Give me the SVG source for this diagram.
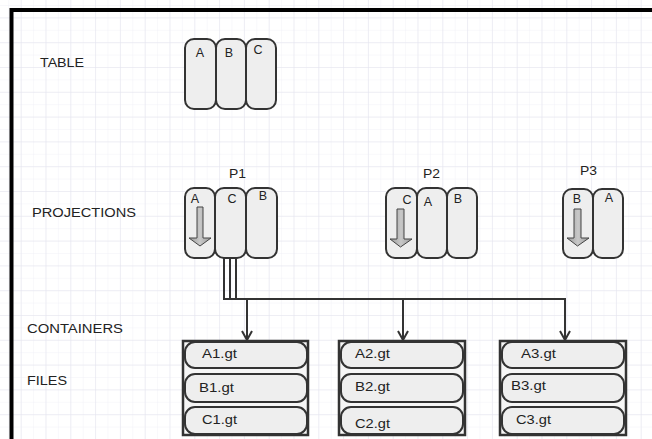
<svg xmlns="http://www.w3.org/2000/svg" width="652" height="439" viewBox="0 0 652 439">
<style>
.lbl{font-family:"Liberation Sans",Arial,sans-serif;font-size:12px;fill:#222}
.ltr{font-family:"Liberation Sans",Arial,sans-serif;font-size:12.5px;fill:#222;text-anchor:middle}
.col{fill:#eeeeee;stroke:#333;stroke-width:2}
.row{fill:#eeeeee;stroke:#333;stroke-width:2}
.box{fill:#f6f6f6;stroke:#333;stroke-width:2.5}
.blk{fill:url(#ag);stroke:#444;stroke-width:1}
.con{fill:none;stroke:#333;stroke-width:2}
</style>
<defs>
<pattern id="gminor" width="12.4" height="12.4" patternUnits="userSpaceOnUse" x="8.3" y="5">
<path d="M0 0H12.4M0 0V12.4" fill="none" stroke="#f1f1f7" stroke-width="1"/>
</pattern>
<pattern id="gmajor" width="24.8" height="24.8" patternUnits="userSpaceOnUse" x="20.7" y="17.4">
<path d="M0 0H24.8M0 0V24.8" fill="none" stroke="#e4e4ee" stroke-width="1"/>
</pattern>
<linearGradient id="ag" x1="0" y1="0" x2="1" y2="0">
<stop offset="0" stop-color="#9a9a9a"/>
<stop offset="0.5" stop-color="#c8c8c8"/>
<stop offset="1" stop-color="#9a9a9a"/>
</linearGradient>
<marker id="open" markerWidth="12" markerHeight="12" refX="10" refY="6" orient="auto" markerUnits="userSpaceOnUse">
<path d="M1 1L10 6L1 11" fill="none" stroke="#333" stroke-width="2"/>
</marker>
</defs>
<rect width="652" height="439" fill="#ffffff"/>
<rect width="652" height="439" fill="url(#gminor)"/>
<rect width="652" height="439" fill="url(#gmajor)"/>
<path d="M11.5 439V10H652" fill="none" stroke="#000" stroke-width="4"/>

<g id="labels">
<text class="lbl" x="40" y="67" textLength="44" lengthAdjust="spacingAndGlyphs">TABLE</text>
<text class="lbl" x="32" y="217" textLength="104" lengthAdjust="spacingAndGlyphs">PROJECTIONS</text>
<text class="lbl" x="27" y="333" textLength="96" lengthAdjust="spacingAndGlyphs">CONTAINERS</text>
<text class="lbl" x="27" y="385" textLength="40" lengthAdjust="spacingAndGlyphs">FILES</text>
</g>

<g id="table">
<rect class="col" x="185" y="39" width="31" height="70" rx="9"/>
<rect class="col" x="216" y="39" width="30" height="70" rx="9"/>
<rect class="col" x="246" y="39" width="30" height="70" rx="9"/>
<text class="ltr" x="200" y="57">A</text>
<text class="ltr" x="229" y="57">B</text>
<text class="ltr" x="258" y="54">C</text>
</g>

<g id="p1">
<text class="lbl" x="229" y="178" textLength="17" lengthAdjust="spacingAndGlyphs">P1</text>
<rect class="col" x="185" y="188" width="30" height="70" rx="9"/>
<rect class="col" x="215" y="188" width="31" height="70" rx="9"/>
<rect class="col" x="246" y="188" width="31" height="70" rx="9"/>
<text class="ltr" x="195" y="203">A</text>
<text class="ltr" x="232" y="203">C</text>
<text class="ltr" x="263" y="200">B</text>
<path class="blk" d="M197 207H203V238H211L200 246L189 238H197Z"/>
</g>

<g id="p2">
<text class="lbl" x="423" y="178" textLength="17" lengthAdjust="spacingAndGlyphs">P2</text>
<rect class="col" x="386" y="188" width="31" height="70" rx="9"/>
<rect class="col" x="417" y="188" width="30" height="70" rx="9"/>
<rect class="col" x="447" y="188" width="30" height="70" rx="9"/>
<text class="ltr" x="407" y="204">C</text>
<text class="ltr" x="428" y="206">A</text>
<text class="ltr" x="458" y="203">B</text>
<path class="blk" d="M397 209H404V239H412L400.5 247L390 239H397Z"/>
</g>

<g id="p3">
<text class="lbl" x="580" y="175" textLength="17" lengthAdjust="spacingAndGlyphs">P3</text>
<rect class="col" x="563" y="189" width="30" height="69" rx="9"/>
<rect class="col" x="593" y="189" width="30" height="69" rx="9"/>
<text class="ltr" x="577" y="203">B</text>
<text class="ltr" x="609" y="202">A</text>
<path class="blk" d="M574 209H581V238H589L577.5 246L567 238H574Z"/>
</g>

<g id="connectors">
<path class="con" d="M224 258V299H565V340" marker-end="url(#open)"/>
<path class="con" d="M230 258V299"/>
<path class="con" d="M236 258V299"/>
<path class="con" d="M247 299V340" marker-end="url(#open)"/>
<path class="con" d="M403 299V340" marker-end="url(#open)"/>
</g>

<g id="c1">
<rect class="box" x="183" y="341" width="125" height="94"/>
<rect class="row" x="185" y="342" width="122" height="26" rx="10"/>
<rect class="row" x="185" y="374" width="122" height="28" rx="10"/>
<rect class="row" x="185" y="407" width="122" height="27" rx="10"/>
<text class="lbl" x="202" y="358" textLength="35" lengthAdjust="spacingAndGlyphs">A1.gt</text>
<text class="lbl" x="199" y="392" textLength="35" lengthAdjust="spacingAndGlyphs">B1.gt</text>
<text class="lbl" x="202" y="424" textLength="35" lengthAdjust="spacingAndGlyphs">C1.gt</text>
</g>

<g id="c2">
<rect class="box" x="339" y="341" width="126" height="94"/>
<rect class="row" x="341" y="342" width="122" height="26" rx="10"/>
<rect class="row" x="341" y="374" width="122" height="28" rx="10"/>
<rect class="row" x="341" y="407" width="122" height="27" rx="10"/>
<text class="lbl" x="355" y="358" textLength="35" lengthAdjust="spacingAndGlyphs">A2.gt</text>
<text class="lbl" x="355" y="391" textLength="35" lengthAdjust="spacingAndGlyphs">B2.gt</text>
<text class="lbl" x="355" y="428" textLength="35" lengthAdjust="spacingAndGlyphs">C2.gt</text>
</g>

<g id="c3">
<rect class="box" x="500" y="341" width="126" height="94"/>
<rect class="row" x="502" y="342" width="122" height="26" rx="10"/>
<rect class="row" x="502" y="374" width="122" height="28" rx="10"/>
<rect class="row" x="502" y="407" width="122" height="27" rx="10"/>
<text class="lbl" x="521" y="358" textLength="35" lengthAdjust="spacingAndGlyphs">A3.gt</text>
<text class="lbl" x="511" y="390" textLength="35" lengthAdjust="spacingAndGlyphs">B3.gt</text>
<text class="lbl" x="516" y="424" textLength="35" lengthAdjust="spacingAndGlyphs">C3.gt</text>
</g>
</svg>
